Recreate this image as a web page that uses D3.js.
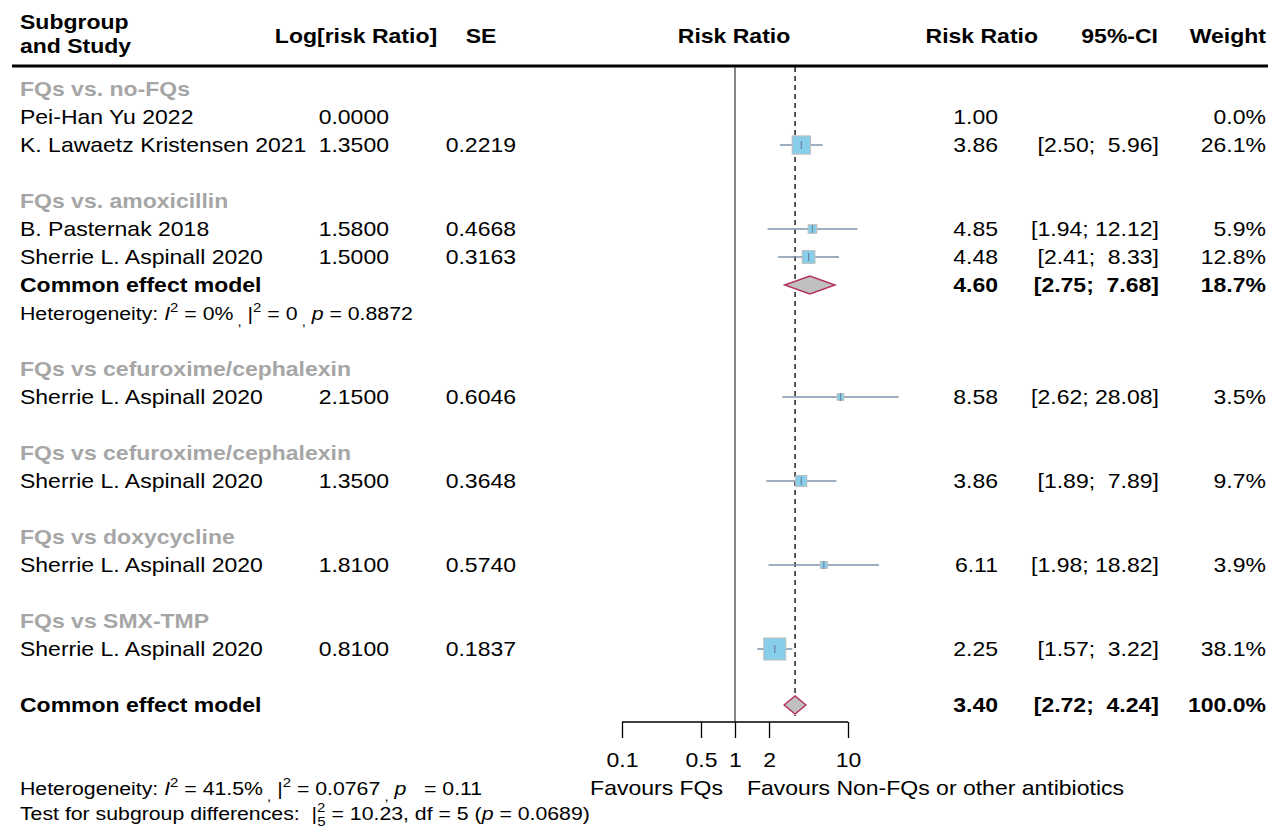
<!DOCTYPE html>
<html>
<head>
<meta charset="utf-8">
<script src="https://cdn.jsdelivr.net/npm/d3@7"></script>
<style>
  body { margin: 0; background: #fff; }
  svg { font-family: "Liberation Sans", Arial, sans-serif; }
  text { white-space: pre; }
</style>
</head>
<body>
<div class="container"></div>
<script>
// groups and studies
const groupLabels = ["FQs vs. no-FQs", "FQs vs. amoxicillin", "FQs vs cefuroxime/cephalexin",
  "FQs vs cefuroxime/cephalexin", "FQs vs doxycycline", "FQs vs SMX-TMP"];
const studyNames = ["Pei-Han Yu 2022", "K. Lawaetz Kristensen 2021", "B. Pasternak 2018",
  "Sherrie L. Aspinall 2020", "Sherrie L. Aspinall 2020", "Sherrie L. Aspinall 2020",
  "Sherrie L. Aspinall 2020", "Sherrie L. Aspinall 2020"];
const studyGroup = [0, 0, 1, 1, 2, 3, 4, 5];
const logRR = [0.0, 1.35, 1.58, 1.50, 2.15, 1.35, 1.81, 0.81];
const seVals = [null, 0.2219, 0.4668, 0.3163, 0.6046, 0.3648, 0.5740, 0.1837];
const rr = [1.00, 3.86, 4.85, 4.48, 8.58, 3.86, 6.11, 2.25];
const ciLow = [null, 2.50, 1.94, 2.41, 2.62, 1.89, 1.98, 1.57];
const ciHigh = [null, 5.96, 12.12, 8.33, 28.08, 7.89, 18.82, 3.22];
const weights = [0.0, 26.1, 5.9, 12.8, 3.5, 9.7, 3.9, 38.1];

// pooled estimates (only subgroup 1 has its own pooled row)
const pooledGroup = 1;
const pooledSub = {rr: 4.60, lo: 2.75, hi: 7.68, w: 18.7};
const pooledAll = {rr: 3.40, lo: 2.72, hi: 4.24, w: 100.0};

const axisTicks = [0.1, 0.5, 1, 2, 10];

const W = 1268, H = 828;
const svg = d3.select(".container").append("svg")
  .attr("width", W).attr("height", H);

// the source picture is stretched sideways, so text is widened too
const sx = 1.15;
const T = svg.append("g").attr("transform", `scale(${sx},1)`);
function txt(x, y, s, size = 20) {
  return T.append("text").attr("x", x / sx).attr("y", y).attr("font-size", size).text(s);
}

// build row list
const rows = [];
groupLabels.forEach((g, gi) => {
  rows.push({type: "group", label: g});
  studyNames.forEach((s, i) => {
    if (studyGroup[i] === gi) rows.push({type: "study", i});
  });
  if (gi === pooledGroup) {
    rows.push({type: "pooled", d: pooledSub});
    rows.push({type: "het"});
  }
  rows.push({type: "blank"});
});
rows.push({type: "pooled", d: pooledAll});
rows.forEach((r, k) => r.k = k);

const y = d3.scaleLinear().domain([0, rows.length - 1]).range([89, 705]);
const x = d3.scaleLog().domain([0.1, 10]).range([622, 848]);
const size = d3.scaleSqrt().domain([0, d3.max(weights)]).range([0, 22]);

const fmt2 = d3.format(".2f");
const ciText = (lo, hi) => `[${fmt2(lo)}; ${fmt2(hi).padStart(5, " ")}]`;

// header
txt(20, 29, "Subgroup").attr("font-weight", "bold");
txt(20, 53, "and Study").attr("font-weight", "bold");
txt(356, 43, "Log[risk Ratio]").attr("font-weight", "bold").attr("text-anchor", "middle");
txt(481, 43, "SE").attr("font-weight", "bold").attr("text-anchor", "middle");
txt(734, 43, "Risk Ratio").attr("font-weight", "bold").attr("text-anchor", "middle");
txt(1038, 43, "Risk Ratio").attr("font-weight", "bold").attr("text-anchor", "end");
txt(1158, 43, "95%-CI").attr("font-weight", "bold").attr("text-anchor", "end");
txt(1266, 43, "Weight").attr("font-weight", "bold").attr("text-anchor", "end");

svg.append("line").attr("x1", 12).attr("x2", W).attr("y1", 66).attr("y2", 66)
  .attr("stroke", "#000").attr("stroke-width", 3);

// reference lines
svg.append("line").attr("x1", x(1)).attr("x2", x(1)).attr("y1", 67).attr("y2", 722)
  .attr("stroke", "#444").attr("stroke-width", 1.3);
svg.append("line").attr("x1", x(pooledAll.rr)).attr("x2", x(pooledAll.rr)).attr("y1", 67).attr("y2", 716)
  .attr("stroke", "#000").attr("stroke-width", 1.3).attr("stroke-dasharray", "5,4");

const base = 7; // text baseline below row centre

function hetLine(yy, parts) {
  const t = txt(20, yy, "", 18.5);
  parts.forEach(p => {
    const s = t.append("tspan").text(p.t);
    if (p.it) s.attr("font-style", "italic");
    if (p.fs) s.attr("font-size", p.fs);
    if (p.dy) s.attr("dy", p.dy);
    if (p.dx) s.attr("dx", p.dx);
  });
  return t;
}

rows.forEach(r => {
  const cy = y(r.k);
  if (r.type === "group") {
    txt(20, cy + base, r.label).attr("font-weight", "bold").attr("fill", "#a6a6a6");
  } else if (r.type === "study") {
    const i = r.i;
    txt(20, cy + base, studyNames[i]);
    txt(389, cy + base, logRR[i].toFixed(4)).attr("text-anchor", "end");
    if (seVals[i] !== null) txt(516, cy + base, seVals[i].toFixed(4)).attr("text-anchor", "end");
    txt(998, cy + base, fmt2(rr[i])).attr("text-anchor", "end");
    if (ciLow[i] !== null) txt(1159, cy + base, ciText(ciLow[i], ciHigh[i])).attr("text-anchor", "end");
    txt(1266, cy + base, weights[i].toFixed(1) + "%").attr("text-anchor", "end");
    if (ciLow[i] !== null) {
      const s = size(weights[i]);
      svg.append("line").attr("x1", x(ciLow[i])).attr("x2", x(ciHigh[i]))
        .attr("y1", cy).attr("y2", cy).attr("stroke", "#7d93a8").attr("stroke-width", 1.4);
      svg.append("rect").attr("x", x(rr[i]) - s / 2).attr("y", cy - s / 2)
        .attr("width", s).attr("height", s).attr("fill", "#87ceeb")
        .attr("stroke", "#bdbdbd").attr("stroke-width", 1);
      svg.append("line").attr("x1", x(rr[i])).attr("x2", x(rr[i]))
        .attr("y1", cy - 4).attr("y2", cy + 4).attr("stroke", "#6a86a0").attr("stroke-width", 1.2);
    }
  } else if (r.type === "pooled") {
    const d = r.d;
    txt(20, cy + base, "Common effect model").attr("font-weight", "bold");
    txt(998, cy + base, fmt2(d.rr)).attr("font-weight", "bold").attr("text-anchor", "end");
    txt(1159, cy + base, ciText(d.lo, d.hi)).attr("font-weight", "bold").attr("text-anchor", "end");
    txt(1266, cy + base, d.w.toFixed(1) + "%").attr("font-weight", "bold").attr("text-anchor", "end");
    const hh = 9;
    const pts = [[x(d.lo), cy], [x(d.rr), cy - hh], [x(d.hi), cy], [x(d.rr), cy + hh]];
    svg.append("polygon").attr("points", pts.map(p => p.join(",")).join(" "))
      .attr("fill", "#c0c0c0").attr("stroke", "#b5305c").attr("stroke-width", 1.4);
  } else if (r.type === "het") {
    hetLine(cy + 7, [
      {t: "Heterogeneity: "}, {t: "I", it: true}, {t: "2", fs: 13, dy: -8},
      {t: " = 0%", dy: 8}, {t: " ,", fs: 13, dy: 6}, {t: " |", dy: -6},
      {t: "2", fs: 13, dy: -8}, {t: " = 0", dy: 8}, {t: " ,", fs: 13, dy: 6},
      {t: " ", dy: -6}, {t: "p", it: true}, {t: " = 0.8872"}
    ]);
  }
});

// axis
const axisY = 722;
const axis = svg.append("g").attr("transform", `translate(0,${axisY})`)
  .call(d3.axisBottom(x).tickValues(axisTicks).tickSize(16).tickFormat(d => String(d)));
axis.select(".domain").attr("stroke", "#000").attr("stroke-width", 1.3)
  .attr("d", `M${x(0.1)},0H${x(10)}`);
axis.selectAll(".tick line").attr("stroke", "#000").attr("stroke-width", 1.3);
axis.selectAll(".tick text").attr("font-size", 20).attr("font-family", "Liberation Sans, Arial, sans-serif")
  .attr("fill", "#000").attr("dy", 0).attr("y", 45).attr("transform", `scale(${sx},1)`);

txt(723, 795, "Favours FQs").attr("text-anchor", "end");
txt(747, 795, "Favours Non-FQs or other antibiotics");

// bottom statistics
hetLine(795, [
  {t: "Heterogeneity: "}, {t: "I", it: true}, {t: "2", fs: 13, dy: -8},
  {t: " = 41.5%", dy: 8}, {t: " ,", fs: 13, dy: 6}, {t: " |", dy: -6},
  {t: "2", fs: 13, dy: -8}, {t: " = 0.0767", dy: 8}, {t: " ,", fs: 13, dy: 6},
  {t: " ", dy: -6}, {t: "p", it: true}, {t: "   = 0.11"}
]);
hetLine(820, [
  {t: "Test for subgroup differences:  |"}, {t: "2", fs: 13, dy: -8},
  {t: "5", fs: 13, dx: -7, dy: 14}, {t: " = 10.23, df = 5 (", dy: -6},
  {t: "p", it: true}, {t: " = 0.0689)"}
]);
</script>
</body>
</html>
